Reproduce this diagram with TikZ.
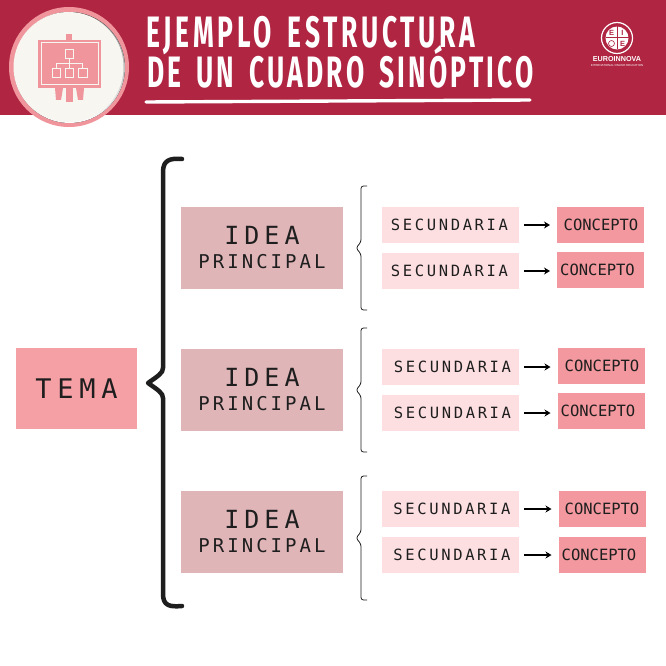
\documentclass[tikz,border=0pt]{standalone}
\usepackage{fontspec}
\setmainfont{DejaVu Sans Mono}
\newfontfamily\titlefonta[FakeStretch=0.6,LetterSpace=8.5,WordSpace=1.6]{Fira Sans}
\newfontfamily\titlefontb[FakeStretch=0.6,LetterSpace=7.25,WordSpace=1.6]{Fira Sans}
\newfontfamily\logofont{Liberation Sans}
\newfontfamily\monoidea[LetterSpace=20]{DejaVu Sans Mono}
\newfontfamily\monoprin[LetterSpace=16]{DejaVu Sans Mono}
\newfontfamily\monotema[LetterSpace=21]{DejaVu Sans Mono}
\newfontfamily\monosec[LetterSpace=17]{DejaVu Sans Mono}
\definecolor{hdr}{HTML}{AF2542}
\definecolor{ringp}{HTML}{F0959C}
\definecolor{cream}{HTML}{F7F6F1}
\definecolor{shade}{HTML}{DDE5DF}
\definecolor{temac}{HTML}{F5A0A5}
\definecolor{ideac}{HTML}{DFB5B8}
\definecolor{secc}{HTML}{FDDFE2}
\definecolor{conc}{HTML}{F2989E}
\definecolor{inkc}{HTML}{1E1E1E}
\usetikzlibrary{arrows.meta}
\tikzset{
  x=1pt,y=-1pt,
  box/.style={draw=none,inner sep=0pt,outer sep=0pt,text=inkc,align=center},
  temabox/.style={box,fill=temac,minimum width=121pt,minimum height=81pt,font=\monotema\fontsize{27}{27}\selectfont},
  ideabox/.style={box,fill=ideac,minimum width=162pt,minimum height=82pt,font=\fontsize{19}{24}\selectfont},
  secbox/.style={box,fill=secc,minimum width=137pt,minimum height=36pt,font=\monosec\fontsize{15.5}{15.5}\selectfont},
  conbox/.style={box,fill=conc,minimum width=87pt,minimum height=36pt,font=\fontsize{15.5}{15.5}\selectfont},
  link/.style={draw=black,line width=1.7pt,-{Stealth[length=6pt,width=7pt]},shorten <=5pt,shorten >=7pt},
  bigbrace/.style={draw=inkc,line width=4.5pt,line cap=round,line join=round},
  smallbrace/.style={draw=inkc,line width=0.8pt,rounded corners=2.5pt},
  titletext/.style={inner sep=0pt,text=white},
  iconline/.style={draw=cream,line width=1pt,fill=none},
}
\newcommand{\ideatxt}{{\monoidea\fontsize{25}{24}\selectfont IDEA}\\{\monoprin\fontsize{19}{24}\selectfont PRINCIPAL}}
\begin{document}
\begin{tikzpicture}
\useasboundingbox (0,0) rectangle (666,666);
\fill[white] (0,0) rectangle (666,666);
% header
\fill[hdr] (0,0) rectangle (666,115);
\fill[ringp] (69,67) circle (60);
\fill[shade] (69.5,67.5) circle (55.5);
\fill[cream] (68.5,67) circle (55);
% icon
\fill[ringp] (66,34) rectangle (72,42);
\fill[ringp] (38,40) rectangle (101,88);
\fill[ringp] (55,88) -- (63,88) -- (61,100) -- (56,100) -- cycle;
\fill[ringp] (66,88) rectangle (73,102);
\fill[ringp] (76,88) -- (84,88) -- (83,100) -- (78,100) -- cycle;
\draw[iconline] (41,43) rectangle (98,85);
\draw[iconline] (65,50) rectangle (73,59);
\draw[iconline] (52,69) rectangle (60.5,78);
\draw[iconline] (65,69) rectangle (73,78);
\draw[iconline] (78,69) rectangle (87,78);
\draw[iconline] (69,59) -- (69,69);
\draw[iconline] (56.5,69) -- (56.5,64) -- (82.5,64) -- (82.5,69);
% title
\node[titletext,anchor=base west,font=\titlefonta\bfseries\fontsize{44}{44}\selectfont] (t1) at (146,47.5) {EJEMPLO ESTRUCTURA};
\node[titletext,anchor=base west,font=\titlefontb\bfseries\fontsize{44}{44}\selectfont] (t2) at (147,88) {DE UN CUADRO SINÓPTICO};
\draw[white,line width=3.4pt,line cap=round] (146,102) -- (530,100);
% logo
\draw[white,line width=1.2pt] (617,38) circle (15.5);
\fill[white] (617,38) circle (11.5);
\fill[hdr] (605.5,37.5) rectangle (628.5,38.5);
\fill[hdr] (616.5,26.5) rectangle (617.5,49.5);
\node[inner sep=0pt,text=hdr,font=\logofont\bfseries\fontsize{7.5}{7.5}\selectfont] (le1) at (611.5,32.5) {E};
\node[inner sep=0pt,text=hdr,font=\logofont\bfseries\fontsize{7.5}{7.5}\selectfont] (li) at (622.5,32.5) {I};
\node[inner sep=0pt,text=hdr,font=\logofont\bfseries\fontsize{7.5}{7.5}\selectfont] (le2) at (622.5,43.5) {E};
\draw[hdr,line width=0.6pt] (611.5,43.5) circle (3);
\node[inner sep=0pt,text=white,font=\logofont\bfseries\fontsize{7.2}{7.2}\selectfont] (ln) at (617,59.5) {EUROINNOVA};
\node[inner sep=0pt,text=white,font=\logofont\fontsize{2.9}{2.9}\selectfont] (lt) at (617,65.5) {INTERNATIONAL ONLINE EDUCATION};
% main nodes
\node[temabox] (tema) at (76.5,388.5) {\raisebox{-4pt}{TEMA}};
\node[ideabox] (i1) at (262,248) {\ideatxt};
\node[ideabox] (i2) at (262,390) {\ideatxt};
\node[ideabox] (i3) at (262,532) {\ideatxt};
\node[secbox] (s1) at (450.5,225) {SECUNDARIA\kern2pt};
\node[secbox] (s2) at (450.5,271) {SECUNDARIA\kern2pt};
\node[secbox] (s3) at (450.5,367) {\kern4pt SECUNDARIA};
\node[secbox] (s4) at (450.5,413) {\kern4pt SECUNDARIA};
\node[secbox] (s5) at (450.5,509) {\kern3pt SECUNDARIA};
\node[secbox] (s6) at (450.5,555) {\kern3pt SECUNDARIA};
\node[conbox] (c1) at (600.5,225) {\kern1pt CONCEPTO};
\node[conbox] (c2) at (600.5,270) {CONCEPTO\kern6pt};
\node[conbox] (c3) at (601,366) {CONCEPTO\kern-2pt};
\node[conbox] (c4) at (601,411) {CONCEPTO\kern6pt};
\node[conbox] (c5) at (602,509) {CONCEPTO};
\node[conbox] (c6) at (602,555) {CONCEPTO\kern6pt};
% connectors
\draw[link] (s1.east) -- (s1.east -| c1.west);
\draw[link] (s2.east) -- (s2.east -| c2.west);
\draw[link] (s3.east) -- (s3.east -| c3.west);
\draw[link] (s4.east) -- (s4.east -| c4.west);
\draw[link] (s5.east) -- (s5.east -| c5.west);
\draw[link] (s6.east) -- (s6.east -| c6.west);
% big brace
\draw[bigbrace] (182,159) .. controls (170,158) and (163,160) .. (163,172)
  -- (163,368) .. controls (163,373) and (158,376) .. (148,383)
  .. controls (158,390) and (163,393) .. (163,398)
  -- (163,594) .. controls (163,606) and (170,607) .. (182,606);
% small braces
\draw[smallbrace] (367,186) -- (361,186) -- (361,242) -- (356,248) -- (361,254) -- (361,310) -- (367,310);
\draw[smallbrace] (367,328) -- (361,328) -- (361,384) -- (356,390) -- (361,396) -- (361,452) -- (367,452);
\draw[smallbrace] (367,476) -- (361,476) -- (361,532) -- (356,538) -- (361,544) -- (361,600) -- (367,600);
\end{tikzpicture}
\end{document}
